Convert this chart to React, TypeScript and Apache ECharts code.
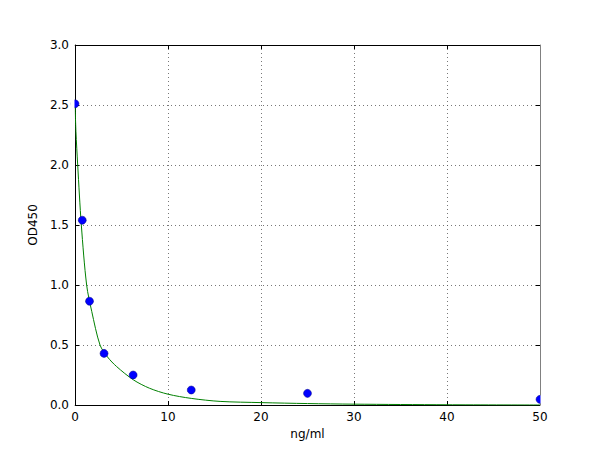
import React, { useEffect, useRef } from "react";
import * as echarts from "echarts";

// standard concentrations (ng/ml) and measured OD450
const concentrations = [0, 0.78, 1.56, 3.125, 6.25, 12.5, 25, 50];
const odValues = [2.51, 1.54, 0.865, 0.43, 0.25, 0.125, 0.097, 0.047];

// fitted curve
const curveX = [0, 0.1, 0.29, 0.68, 1.25, 1.8, 2.69, 3.5, 4.48, 6.27, 8, 10, 12.5, 15.6, 20, 25, 30, 40, 50];
const curveY = [2.52, 2.28, 2.0, 1.5, 1.0, 0.78, 0.5, 0.4, 0.32, 0.21, 0.14, 0.09, 0.055, 0.03, 0.02, 0.012, 0.007, 0.002, 0.0];

const xTicks = [0, 10, 20, 30, 40, 50];
const yTicks = [0, 0.5, 1.0, 1.5, 2.0, 2.5, 3.0];

const FONT = "DejaVu Sans";
const GRID = { left: 75, right: 60, top: 45, bottom: 45 };

export default function App() {
  const ref = useRef<HTMLDivElement>(null);

  useEffect(() => {
    if (!ref.current) return;
    const chart = echarts.init(ref.current, null, { renderer: "svg" });

    const gridLine = { show: true, lineStyle: { color: "#555", type: [1, 3] as any, width: 0.8 } };
    const tick = { show: true, inside: true, length: 4, lineStyle: { color: "#000" } };
    const axisLine = { show: true, onZero: false, lineStyle: { color: "#000", width: 1 } };
    const label = { color: "#000", fontFamily: FONT, fontSize: 12 };
    const plotH = 450 - GRID.top - GRID.bottom;

    const option: echarts.EChartsOption = {
      animation: false,
      backgroundColor: "#fff",
      grid: { ...GRID },
      xAxis: [
        {
          type: "value",
          min: xTicks[0],
          max: xTicks[xTicks.length - 1],
          interval: xTicks[1] - xTicks[0],
          name: "ng/ml",
          nameLocation: "middle",
          nameGap: 23,
          nameTextStyle: { ...label },
          axisLine,
          axisTick: tick,
          splitLine: gridLine,
          axisLabel: { ...label, margin: 6, formatter: (v: number) => String(v) },
        },
        {
          type: "value",
          position: "top",
          min: xTicks[0],
          max: xTicks[xTicks.length - 1],
          interval: xTicks[1] - xTicks[0],
          axisLine,
          axisTick: tick,
          splitLine: { show: false },
          axisLabel: { show: false },
        },
      ],
      yAxis: [
        {
          type: "value",
          min: yTicks[0],
          max: yTicks[yTicks.length - 1],
          interval: yTicks[1] - yTicks[0],
          name: "OD450",
          nameLocation: "middle",
          nameGap: 33,
          nameTextStyle: { ...label },
          axisLine,
          axisTick: tick,
          splitLine: gridLine,
          axisLabel: { ...label, margin: 6, formatter: (v: number) => v.toFixed(1) },
        },
        {
          type: "value",
          position: "right",
          min: yTicks[0],
          max: yTicks[yTicks.length - 1],
          interval: yTicks[1] - yTicks[0],
          axisLine,
          axisTick: tick,
          splitLine: { show: false },
          axisLabel: { show: false },
        },
      ],
      graphic: [
        // hide the halves of edge markers that fall outside the axes, like matplotlib's clipping
        { type: "rect", z: 3, shape: { x: GRID.left - 4.5, y: GRID.top - 6, width: 4, height: plotH + 12 }, style: { fill: "#fff" } },
        { type: "rect", z: 3, shape: { x: 600 - GRID.right + 0.5, y: GRID.top - 6, width: 5, height: plotH + 12 }, style: { fill: "#fff" } },
      ],
      series: [
        {
          type: "line",
          data: curveX.map((x, i) => [x, curveY[i]]),
          smooth: 0.3,
          showSymbol: false,
          lineStyle: { color: "#008000", width: 1 },
          z: 2,
        },
        {
          type: "scatter",
          data: concentrations.map((x, i) => [x, odValues[i]]),
          symbolSize: 8,
          itemStyle: { color: "#0000ff", borderColor: "#000080", borderWidth: 0.5, opacity: 1 },
          z: 2,
        },
      ],
    };

    chart.setOption(option);
    return () => chart.dispose();
  }, []);

  return (
    <div style={{ position: "fixed", left: 0, top: 0, width: 600, height: 450, background: "#fff" }}>
      <div ref={ref} style={{ width: 600, height: 450 }} />
    </div>
  );
}
